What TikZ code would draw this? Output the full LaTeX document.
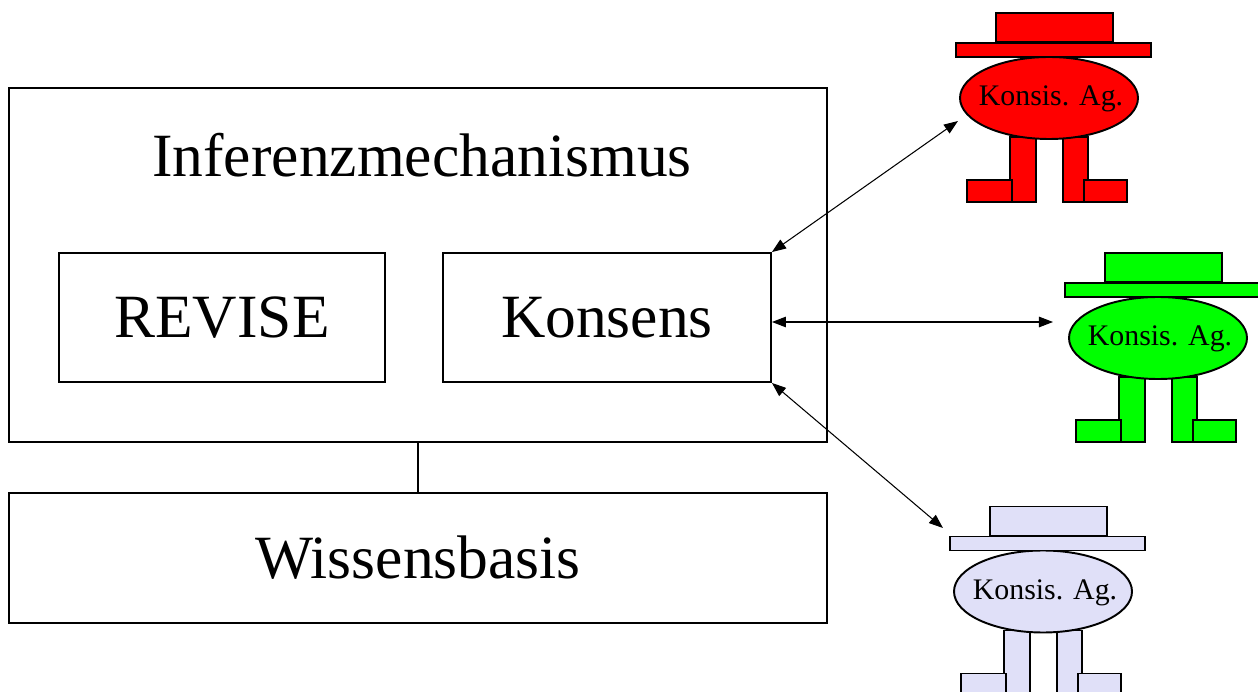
\documentclass[tikz,border=0pt]{standalone}
\usepackage{fontspec}
\setmainfont{Liberation Serif}
\usetikzlibrary{positioning}
\usetikzlibrary{arrows.meta,shapes.geometric}

\definecolor{agentred}{RGB}{255,0,0}
\definecolor{agentgreen}{RGB}{0,255,0}
\definecolor{agentblue}{RGB}{224,224,248}

\tikzset{
    box/.style={draw, line width=1.1pt, inner sep=0pt},
    bigtext/.style={font=\fontsize{35}{42}\selectfont},
    part/.style={draw, line width=1.1pt},
    pics/agent/.style={code={
        % legs and feet
        \draw[part, fill=#1] (-39,39) rectangle (-13,104);
        \draw[part, fill=#1] (14,39) rectangle (39,104);
        \draw[part, fill=#1] (-82,82) rectangle (-37,104);
        \draw[part, fill=#1] (35,82) rectangle (78,104);
        % body
        \draw[part, fill=#1] (0,0) ellipse [x radius=89, y radius=41];
        \node[font=\fontsize{17}{20}\selectfont] (-body) at (2,1) {Konsis. Ag.};
        % hat
        \draw[part, fill=#1] (-53,-85) rectangle (64,-56);
        \draw[part, fill=#1] (-93,-55) rectangle (102,-41);
    }}
}

\begin{document}
\begin{tikzpicture}[x=0.02cm, y=-0.02cm]
    \useasboundingbox (0,0) rectangle (1258,692);

    \node[box, minimum width=16.36cm, minimum height=7.08cm] (outer) at (418,265) {};
    \node[bigtext] (title) at (422,155) {Inferenzmechanismus};
    \node[box, bigtext, minimum width=6.52cm, minimum height=2.58cm] (revise) at (222,317.5) {REVISE};
    \node[box, bigtext, minimum width=6.56cm, minimum height=2.58cm] (konsens) at (607,317.5) {Konsens};
    \node[box, bigtext, minimum width=16.36cm, minimum height=2.6cm] (wissen) at (418,558) {Wissensbasis};
    \draw[line width=0.8pt] (outer.south) -- (wissen.north);

    % agents
    \pic (red) at (1049,98) {agent=agentred};
    \pic (green) at (1158,338) {agent=agentgreen};
    \pic (blue) at (1043,591.5) {agent=agentblue};

    \coordinate (redport) at (958,121);
    \coordinate (greenport) at (1053,322);
    \coordinate (blueport) at (943,528);

    %Links
    \begin{scope}[>={Triangle[length=8pt,width=6pt]}, line width=0.6pt]
        \draw[<->] (konsens.north east) -- (redport);
        \draw[<->] (konsens.east |- greenport) -- (greenport);
        \draw[<->] (konsens.south east) -- (blueport);
    \end{scope}
\end{tikzpicture}
\end{document}
